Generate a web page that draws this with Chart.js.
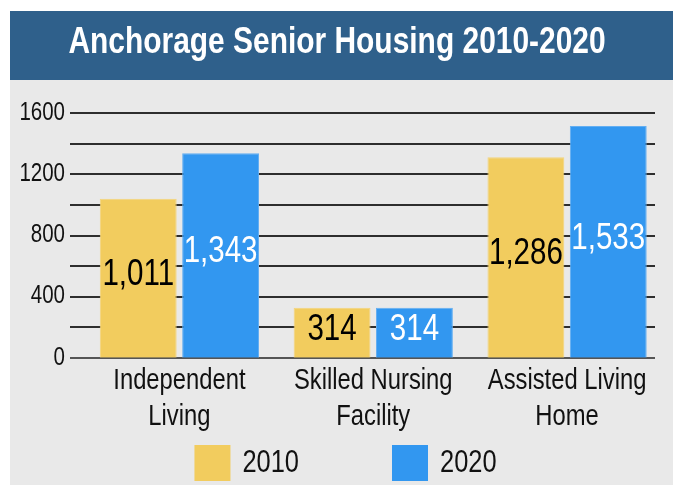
<!DOCTYPE html>
<html><head><meta charset="utf-8">
<script src="https://cdn.jsdelivr.net/npm/chart.js@4/dist/chart.umd.min.js"></script>
<style>
html,body{margin:0;padding:0;background:#fff;}
#wrap{position:absolute;left:10px;top:11px;width:663px;height:474px;}
</style></head><body>
<div id="wrap"><canvas id="c" width="663" height="474"></canvas></div>
<script>
const titleText = 'Anchorage Senior Housing 2010-2020';
const categories = [['Independent','Living'],['Skilled Nursing','Facility'],['Assisted Living','Home']];
const seriesNames = ['2010','2020'];
const values2010 = [1040, 327, 1312];
const values2020 = [1338, 327, 1517];
const labels2010 = ['1,011','314','1,286'];
const labels2020 = ['1,343','314','1,533'];
const yTickLabels = [0, 400, 800, 1200, 1600];

const FF = "'Liberation Sans', Arial, sans-serif";
const SX = 0.82; // horizontal condensing of glyphs (narrow face look)
const BG = '#e9e9e9', BANNER = '#2f608b';
const YELLOW = '#f2cc5e', BLUE = '#3297f0';

const canvas = document.getElementById('c');
const ctx0 = canvas.getContext('2d');
const origFill = ctx0.fillText.bind(ctx0);
ctx0.fillText = function (t, x, y, mw) {
  this.save();
  this.translate(x, y);
  this.scale(SX, 1);
  if (mw === undefined) origFill(t, 0, 0); else origFill(t, 0, 0, mw / SX);
  this.restore();
};

const backgroundPlugin = {
  id: 'bgBanner',
  beforeDraw(chart) {
    const {ctx, width, height} = chart;
    ctx.save();
    ctx.fillStyle = BG;
    ctx.fillRect(0, 0, width, height);
    ctx.fillStyle = BANNER;
    ctx.fillRect(0, 0, width, 69);
    ctx.restore();
  }
};

const gridPlugin = {
  id: 'hgrid',
  beforeDatasetsDraw(chart) {
    const {ctx, chartArea} = chart;
    const ys = chart.scales.y;
    ctx.save();
    ys.ticks.forEach(t => {
      const y = Math.round(ys.getPixelForValue(t.value));
      ctx.strokeStyle = t.value === 0 ? '#555' : '#2e2e2e';
      ctx.lineWidth = 2;
      ctx.beginPath();
      ctx.moveTo(chartArea.left - 12.5, y);
      ctx.lineTo(chartArea.right - 9, y);
      ctx.stroke();
    });
    ctx.restore();
  }
};

const labelPlugin = {
  id: 'barLabels',
  afterDatasetsDraw(chart) {
    const {ctx} = chart;
    const texts = [labels2010, labels2020];
    const colors = ['#000', '#fff'];
    ctx.save();
    ctx.font = '36px ' + FF;
    ctx.textAlign = 'center';
    ctx.textBaseline = 'middle';
    chart.data.datasets.forEach((ds, di) => {
      const meta = chart.getDatasetMeta(di);
      meta.data.forEach((el, i) => {
        ctx.fillStyle = colors[di];
        ctx.fillText(texts[di][i], el.x, (el.y + el.base) / 2 - 3);
      });
    });
    ctx.restore();
  }
};

const legendPlugin = {
  id: 'customLegend',
  afterDraw(chart) {
    const {ctx, width, height} = chart;
    const box = 36, gapBT = 12, gapItems = 93;
    ctx.save();
    ctx.font = '31px ' + FF;
    const items = chart.data.datasets.map(ds => ({label: ds.label, color: ds.backgroundColor, w: ctx.measureText(ds.label).width * SX}));
    const total = items.reduce((s, it) => s + box + gapBT + it.w, 0) + gapItems * (items.length - 1);
    let x = width / 2 - total / 2 + 4;
    const top = height - 40;
    ctx.textBaseline = 'middle';
    ctx.textAlign = 'left';
    items.forEach(it => {
      ctx.fillStyle = it.color;
      ctx.fillRect(x, top, box, box);
      ctx.fillStyle = '#111';
      ctx.fillText(it.label, x + box + gapBT, top + box / 2);
      x += box + gapBT + it.w + gapItems;
    });
    ctx.restore();
  }
};

new Chart(canvas, {
  type: 'bar',
  data: {
    labels: categories,
    datasets: [
      {label: seriesNames[0], data: values2010, backgroundColor: YELLOW, borderColor: '#f5d57a', borderWidth: 1, barPercentage: 0.933, categoryPercentage: 0.85},
      {label: seriesNames[1], data: values2020, backgroundColor: BLUE, borderColor: '#62aef2', borderWidth: 1, barPercentage: 0.933, categoryPercentage: 0.85}
    ]
  },
  options: {
    responsive: false,
    animation: false,
    devicePixelRatio: 1,
    layout: {padding: {left: 0, right: 9, top: 0, bottom: 42.3}},
    plugins: {
      legend: {display: false},
      tooltip: {enabled: false},
      title: {
        display: true,
        text: titleText,
        color: '#fff',
        font: {family: FF, size: 36.5, weight: 'bold', lineHeight: 1.2},
        padding: {top: 9.7, bottom: 48.8}
      }
    },
    scales: {
      x: {
        grid: {display: false, drawTicks: false},
        border: {display: false},
        ticks: {color: '#111', font: {family: FF, size: 29, lineHeight: 1.265}, padding: 4.5, maxRotation: 0, autoSkip: false},
        afterFit(s) { s.height = 85; }
      },
      y: {
        min: 0, max: 1600,
        grid: {display: false, drawTicks: false},
        border: {display: false},
        ticks: {
          stepSize: 200,
          autoSkip: false,
          color: '#111',
          font: {family: FF, size: 25},
          padding: 17.5,
          callback: v => yTickLabels.includes(v) ? String(v) : ''
        },
        afterFit(s) { s.width = 72.5; }
      }
    }
  },
  plugins: [backgroundPlugin, gridPlugin, labelPlugin, legendPlugin]
});
</script>
</body></html>
